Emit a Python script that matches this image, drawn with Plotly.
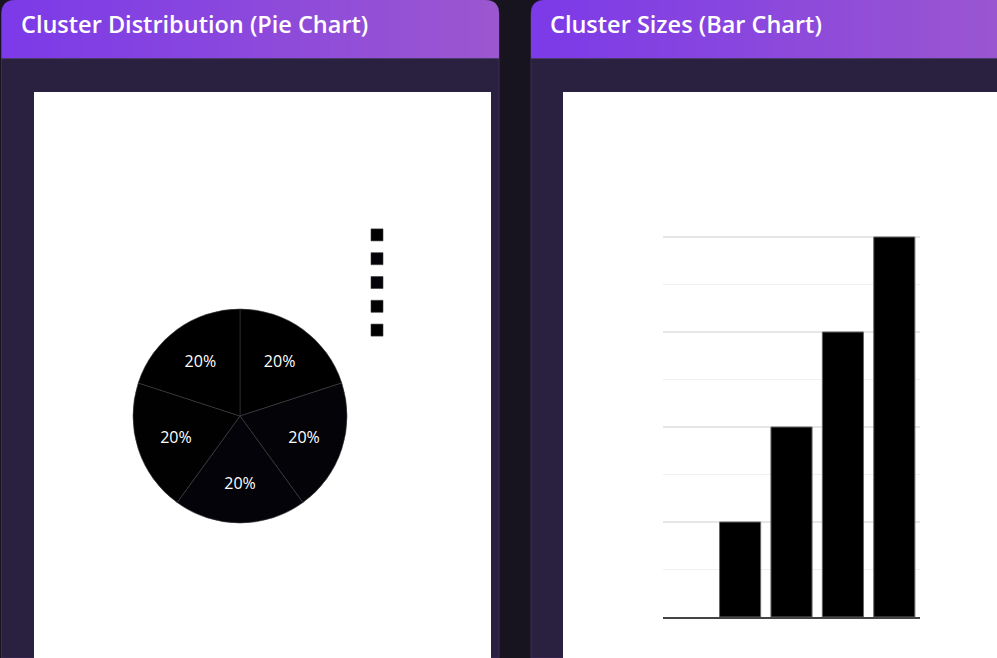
import plotly.graph_objects as go

W, H = 997, 658

# ---- data ----
pie_labels = ["Cluster 0", "Cluster 1", "Cluster 2", "Cluster 3", "Cluster 4"]
pie_values = [1, 1, 1, 1, 1]
pie_colors = ["#000000", "#030308", "#030309", "#010102", "#000000"]

bar_categories = ["Cluster 0", "Cluster 1", "Cluster 2", "Cluster 3", "Cluster 4"]
bar_values = [0, 1, 2, 3, 4]

titles = ["Cluster Distribution (Pie Chart)", "Cluster Sizes (Bar Chart)"]


def px(x):
    return x / W


def py(y):
    return 1 - y / H


fig = go.Figure()

fig.add_trace(go.Pie(
    labels=pie_labels,
    values=pie_values,
    marker=dict(colors=pie_colors, line=dict(color="#3a3a3a", width=0.6)),
    textinfo="percent",
    textposition="inside",
    insidetextorientation="horizontal",
    textfont=dict(color="#ffffff", size=16, family="Open Sans"),
    insidetextfont=dict(color="#ffffff", size=16, family="Open Sans"),
    sort=False,
    direction="clockwise",
    rotation=0,
    domain=dict(x=[px(133), px(347)], y=[py(523), py(309)]),
    showlegend=True,
))

fig.add_trace(go.Bar(
    x=bar_categories,
    y=bar_values,
    marker=dict(color="#000000",
                line=dict(color="#666666", width=[0 if v == 0 else 1 for v in bar_values])),
    showlegend=False,
    xaxis="x",
    yaxis="y",
))

shapes = []
shapes.append(dict(type="rect", xref="paper", yref="paper", x0=0, x1=1, y0=0, y1=1,
                   fillcolor="#17141f", line=dict(width=0), layer="below"))


def panel(x0, x1):
    r = 14
    path = (f"M {px(x0)},{py(H)} L {px(x0)},{py(r)} "
            f"Q {px(x0)},{py(0)} {px(x0 + r)},{py(0)} "
            f"L {px(x1 - r)},{py(0)} Q {px(x1)},{py(0)} {px(x1)},{py(r)} "
            f"L {px(x1)},{py(H)} Z")
    shapes.append(dict(type="path", xref="paper", yref="paper", path=path,
                       fillcolor="#2a2140", line=dict(color="#3a2f55", width=1), layer="below"))
    n = 50
    c0 = (0x7c, 0x3a, 0xe8)
    c1 = (0x9b, 0x57, 0xd0)
    xr = min(x1, W + 20)
    for i in range(n):
        a = x0 + (xr - x0) * i / n
        b = x0 + (xr - x0) * (i + 1) / n + 1.0
        t = i / (n - 1)
        col = "rgb(%d,%d,%d)" % tuple(round(c0[k] + (c1[k] - c0[k]) * t) for k in range(3))
        a2 = max(a, x0 + r)
        b2 = min(b, x1 - r) if x1 <= W else b
        if b2 <= a2:
            continue
        shapes.append(dict(type="rect", xref="paper", yref="paper",
                           x0=px(a2), x1=px(b2), y0=py(58), y1=py(0),
                           fillcolor=col, line=dict(width=0), layer="below"))
    lpath = (f"M {px(x0)},{py(58)} L {px(x0)},{py(r)} Q {px(x0)},{py(0)} {px(x0 + r)},{py(0)} "
             f"L {px(x0 + r + 0.5)},{py(0)} L {px(x0 + r + 0.5)},{py(58)} Z")
    shapes.append(dict(type="path", xref="paper", yref="paper", path=lpath,
                       fillcolor="rgb(124,58,232)", line=dict(width=0), layer="below"))
    if x1 <= W:
        rpath = (f"M {px(x1 - r - 0.5)},{py(58)} L {px(x1 - r - 0.5)},{py(0)} L {px(x1 - r)},{py(0)} "
                 f"Q {px(x1)},{py(0)} {px(x1)},{py(r)} L {px(x1)},{py(58)} Z")
        shapes.append(dict(type="path", xref="paper", yref="paper", path=rpath,
                           fillcolor="rgb(155,87,208)", line=dict(width=0), layer="below"))
    shapes.append(dict(type="line", xref="paper", yref="paper", x0=px(x0), x1=px(min(x1, W)),
                       y0=py(58.5), y1=py(58.5), line=dict(color="#4a3a6a", width=1), layer="below"))


panel(1.5, 499)
panel(531, 1040)

shapes.append(dict(type="rect", xref="paper", yref="paper", x0=px(34), x1=px(491), y0=0, y1=py(92),
                   fillcolor="#ffffff", line=dict(width=0), layer="below"))
shapes.append(dict(type="rect", xref="paper", yref="paper", x0=px(563), x1=1, y0=0, y1=py(92),
                   fillcolor="#ffffff", line=dict(width=0), layer="below"))

annotations = [
    dict(text=titles[0], xref="paper", yref="paper", x=px(19), y=py(24), xanchor="left", yanchor="middle",
         showarrow=False, font=dict(color="#ffffff", size=23.5, family="Open Sans", weight=600)),
    dict(text=titles[1], xref="paper", yref="paper", x=px(548), y=py(24), xanchor="left", yanchor="middle",
         showarrow=False, font=dict(color="#ffffff", size=23.5, family="Open Sans", weight=600)),
]

y_top = 4.06
fig.update_layout(
    width=W, height=H,
    margin=dict(l=0, r=0, t=0, b=0),
    paper_bgcolor="#17141f",
    plot_bgcolor="rgba(0,0,0,0)",
    shapes=shapes,
    annotations=annotations,
    bargap=0.2,
    showlegend=True,
    uniformtext=dict(minsize=16, mode="show"),
    legend=dict(x=px(357), y=py(218), xanchor="left", yanchor="top",
                font=dict(color="#ffffff", size=16), bgcolor="rgba(0,0,0,0)",
                itemclick=False),
    xaxis=dict(domain=[px(663), px(920)], showticklabels=False, showgrid=False,
               showline=True, linecolor="#444444", linewidth=2, ticks="", fixedrange=True),
    yaxis=dict(domain=[py(617), py(617 - 95 * y_top)], range=[0, y_top], dtick=1, showticklabels=False,
               gridcolor="#e6e6e6", gridwidth=1.5, zeroline=False, ticks="",
               minor=dict(dtick=0.5, showgrid=True, gridcolor="#f0f0f0", gridwidth=1),
               fixedrange=True),
    font=dict(family="Open Sans"),
)

fig.write_html("out.html")
